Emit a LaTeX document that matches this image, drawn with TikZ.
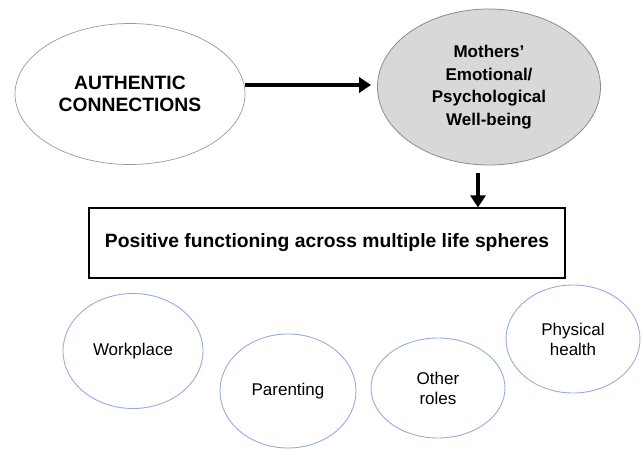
\documentclass[tikz,border=0pt]{standalone}
\usepackage{fontspec}
\setmainfont{Liberation Sans}
\usepackage{tikz}
\usetikzlibrary{shapes.geometric,arrows.meta}
\definecolor{ringblue}{RGB}{150,172,222}
\definecolor{wellgray}{RGB}{216,216,216}

\begin{document}
\begin{tikzpicture}[x=1pt,y=-1pt,
    oval/.style={ellipse, inner sep=0pt, align=center},
    sphere/.style={oval, draw=ringblue, line width=0.9pt, font=\fontsize{17}{20}\selectfont},
    bigarrow/.style={line width=3.5pt, -{Triangle[length=12pt,width=15pt]}}]
    \useasboundingbox (0,0) rectangle (642,449);
    \node[oval, draw=gray!80, line width=0.7pt, minimum width=230, minimum height=141,
        font=\fontsize{19.3}{22}\selectfont\bfseries] (auth) at (130,94) {AUTHENTIC\\CONNECTIONS};
    \node[oval, draw=gray!90, fill=wellgray, line width=0.8pt, minimum width=223, minimum height=156,
        font=\fontsize{17}{22.5}\selectfont\bfseries] (mothers) at (489,87) {Mothers'\\Emotional/\\Psychological\\Well-being};
    \node[draw, line width=1.2pt, minimum width=476, minimum height=70,
        font=\fontsize{19.3}{22}\selectfont\bfseries] (box) at (327,243) {Positive functioning across multiple life spheres};
	\node[sphere, minimum width=140, minimum height=115] (work) at (133,351) {Workplace};
	\node[sphere, minimum width=136, minimum height=114] (parent) at (288,391) {Parenting};
	\node[sphere, minimum width=134, minimum height=100] (other) at (438,388) {Other\\roles};
	\node[sphere, minimum width=134, minimum height=108] (health) at (573,339) {Physical\\health};
	\draw[bigarrow] ([shift={(0,-2)}]auth.east |- mothers.west) -- ([shift={(-6,-2)}]mothers.west);
	\draw[bigarrow] ([shift={(-11,8)}]mothers.south) -- ([xshift=-11]mothers.south |- box.north);
\end{tikzpicture}
\end{document}
